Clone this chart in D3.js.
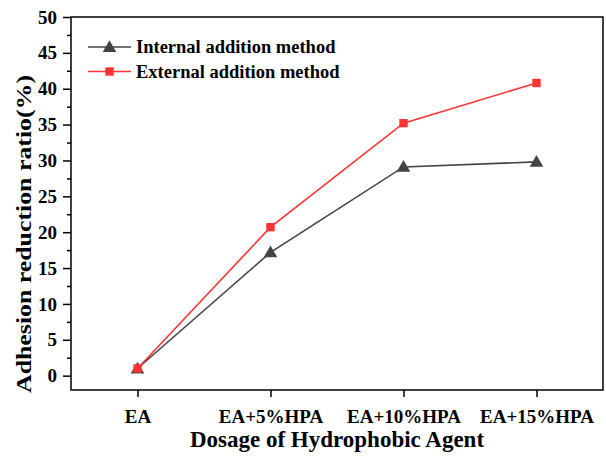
<!DOCTYPE html>
<html>
<head>
<meta charset="utf-8">
<script src="https://cdn.jsdelivr.net/npm/d3@7"></script>
<style>
    body { margin: 0; background: #fff; }
    text { font-family: "Liberation Serif", "Times New Roman", serif; font-weight: bold; }
</style>
</head>
<body>
<div class="LineChart"></div>
<script>
    // data
    const categories = ["EA", "EA+5%HPA", "EA+10%HPA", "EA+15%HPA"];
    const internalValues = [1.0, 17.2, 29.1, 29.8];
    const externalValues = [1.0, 20.7, 35.2, 40.8];
    const seriesNames = ["Internal addition method", "External addition method"];
    const yTicks = [0, 5, 10, 15, 20, 25, 30, 35, 40, 45, 50];

    const COLORS = ["#444444", "#ff3333"];

    let svg = d3.select(".LineChart").append("svg")
        .attr("width", 606).attr("height", 456);

    let margin = {top: 17, right: 3, bottom: 66, left: 71},
        width = 606 - margin.left - margin.right,
        height = 456 - margin.top - margin.bottom,
        g = svg.append("g").attr("transform", "translate(" + margin.left + "," + margin.top + ")");

    let x = d3.scalePoint().domain(categories).range([0, width]).padding(0.5);
    let y = d3.scaleLinear().domain([-2, 50]).range([height, 0]);

    // minor ticks on y
    let minor = d3.range(0, 50, 2.5).filter(d => d % 5 !== 0);
    g.append("g")
        .call(d3.axisLeft(y).tickValues(minor).tickSize(4).tickFormat(""))
        .call(a => a.select(".domain").remove())
        .selectAll("line").attr("stroke-width", 1.5);

    let yAxis = g.append("g")
        .call(d3.axisLeft(y).tickValues(yTicks).tickSize(8).tickPadding(6))
        .attr("font-size", "19px");
    yAxis.select(".domain").remove();
    yAxis.selectAll("line").attr("stroke-width", 1.5);
    yAxis.selectAll("text").attr("fill", "#000");

    let xAxis = g.append("g")
        .attr("transform", "translate(0," + height + ")")
        .call(d3.axisBottom(x).tickSize(7).tickPadding(13))
        .attr("font-size", "19px");
    xAxis.select(".domain").remove();
    xAxis.selectAll("line").attr("stroke-width", 1.5);
    xAxis.selectAll("text").attr("fill", "#000");

    // frame
    g.append("rect")
        .attr("width", width).attr("height", height)
        .attr("fill", "none").attr("stroke", "#000").attr("stroke-width", 1.5);

    let line = d3.line()
        .x((d, i) => x(categories[i]))
        .y(d => y(d));

    let tri = d3.symbol().type(d3.symbolTriangle).size(80);
    let sq = d3.symbol().type(d3.symbolSquare).size(70);

    // internal
    g.append("path").datum(internalValues)
        .attr("d", line).attr("fill", "none")
        .attr("stroke", COLORS[0]).attr("stroke-width", 1.6);
    // external
    g.append("path").datum(externalValues)
        .attr("d", line).attr("fill", "none")
        .attr("stroke", COLORS[1]).attr("stroke-width", 1.6);

    g.selectAll(".triMark").data(internalValues).enter().append("path")
        .attr("class", "triMark")
        .attr("transform", (d, i) => "translate(" + x(categories[i]) + "," + (y(d) + 1) + ")")
        .attr("d", tri).attr("fill", COLORS[0]);
    g.selectAll(".sqMark").data(externalValues).enter().append("path")
        .attr("class", "sqMark")
        .attr("transform", (d, i) => "translate(" + x(categories[i]) + "," + y(d) + ")")
        .attr("d", sq).attr("fill", COLORS[1]);

    // legend
    let legend = svg.append("g").attr("transform", "translate(88,47)");
    [0, 1].forEach(i => {
        let row = legend.append("g").attr("transform", "translate(0," + (i * 24.5) + ")");
        row.append("line").attr("x1", 0).attr("x2", 43).attr("y1", 0).attr("y2", 0)
            .attr("stroke", COLORS[i]).attr("stroke-width", 1.6);
        row.append("path").attr("transform", "translate(21.5," + (i === 0 ? 1 : 0) + ")")
            .attr("d", i === 0 ? tri : sq).attr("fill", COLORS[i]);
        row.append("text").attr("x", 48).attr("y", 6)
            .attr("font-size", "18.5px").text(seriesNames[i]);
    });

    // axis titles
    svg.append("text")
        .attr("x", margin.left + width / 2).attr("y", 447)
        .attr("text-anchor", "middle").attr("font-size", "23px")
        .text("Dosage of Hydrophobic Agent");

    svg.append("text")
        .attr("transform", "translate(31,234) rotate(-90)")
        .attr("text-anchor", "middle").attr("font-size", "22px")
        .attr("textLength", 318).attr("lengthAdjust", "spacingAndGlyphs")
        .text("Adhesion reduction ratio(%)");
</script>
</body>
</html>
